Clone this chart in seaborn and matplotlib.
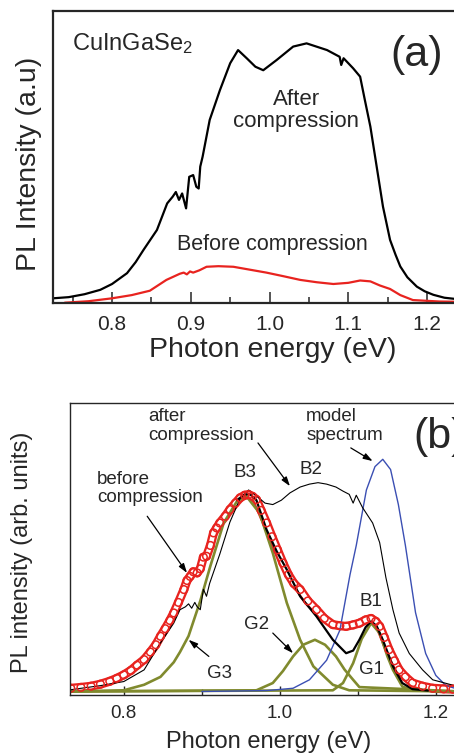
import matplotlib
matplotlib.use("Agg")
import matplotlib.pyplot as plt
from matplotlib.ticker import MultipleLocator
import seaborn as sns
import pandas as pd

# ---- panel (a): PL spectra of CuInGaSe2 ----
e_after_a = [0.725, 0.745, 0.765, 0.785, 0.800, 0.819, 0.830, 0.840, 0.857, 0.870, 0.877,
             0.881, 0.885, 0.889, 0.894, 0.898, 0.903, 0.907, 0.910, 0.912, 0.915, 0.924,
             0.937, 0.950, 0.960, 0.971, 0.982, 0.992, 1.009, 1.030, 1.047, 1.073, 1.089,
             1.091, 1.094, 1.106, 1.115, 1.121, 1.128, 1.136, 1.144, 1.153, 1.160, 1.166,
             1.175, 1.187, 1.197, 1.208, 1.222, 1.242]
i_after_a = [0.016, 0.020, 0.030, 0.045, 0.065, 0.102, 0.140, 0.182, 0.250, 0.341, 0.364,
             0.380, 0.353, 0.375, 0.324, 0.432, 0.438, 0.398, 0.392, 0.467, 0.501, 0.627,
             0.729, 0.821, 0.866, 0.838, 0.809, 0.797, 0.832, 0.878, 0.889, 0.866, 0.843,
             0.815, 0.838, 0.804, 0.775, 0.695, 0.604, 0.467, 0.330, 0.216, 0.165, 0.125,
             0.088, 0.056, 0.040, 0.028, 0.018, 0.012]

e_before_a = [0.740, 0.770, 0.800, 0.825, 0.848, 0.869, 0.886, 0.891, 0.895, 0.899, 0.903,
              0.911, 0.920, 0.935, 0.954, 0.975, 0.996, 1.017, 1.039, 1.060, 1.081, 1.100,
              1.115, 1.128, 1.140, 1.153, 1.166, 1.182, 1.216, 1.242]
i_before_a = [0.001, 0.006, 0.016, 0.027, 0.042, 0.079, 0.100, 0.104, 0.098, 0.108, 0.104,
              0.112, 0.124, 0.126, 0.124, 0.114, 0.104, 0.092, 0.079, 0.071, 0.065, 0.069,
              0.077, 0.074, 0.060, 0.048, 0.027, 0.010, 0.005, 0.004]

# ---- panel (b): spectra, Gaussian components and model ----
e_after_b = [0.732, 0.770, 0.800, 0.826, 0.847, 0.864, 0.872, 0.879, 0.883, 0.887, 0.891,
             0.894, 0.898, 0.902, 0.906, 0.910, 0.923, 0.936, 0.949, 0.960, 0.970, 0.981,
             0.991, 1.002, 1.013, 1.026, 1.038, 1.049, 1.060, 1.072, 1.081, 1.089, 1.094,
             1.098, 1.106, 1.119, 1.128, 1.136, 1.145, 1.153, 1.166, 1.183, 1.196, 1.231]
i_after_b = [0.006, 0.020, 0.034, 0.074, 0.166, 0.234, 0.280, 0.290, 0.300, 0.285, 0.305,
             0.290, 0.280, 0.350, 0.326, 0.370, 0.470, 0.580, 0.660, 0.690, 0.670, 0.645,
             0.640, 0.655, 0.680, 0.700, 0.710, 0.715, 0.710, 0.700, 0.686, 0.675, 0.645,
             0.672, 0.630, 0.577, 0.510, 0.390, 0.280, 0.200, 0.130, 0.074, 0.040, 0.015]

e_before_b = [0.732, 0.745, 0.758, 0.770, 0.782, 0.791, 0.800, 0.809, 0.817, 0.826, 0.834,
              0.841, 0.847, 0.853, 0.859, 0.864, 0.870, 0.877, 0.881, 0.885, 0.889, 0.894,
              0.898, 0.902, 0.906, 0.911, 0.915, 0.919, 0.923, 0.930, 0.936, 0.943, 0.949,
              0.955, 0.960, 0.965, 0.970, 0.976, 0.983, 0.990, 0.997, 1.004, 1.011, 1.018,
              1.026, 1.036, 1.047, 1.057, 1.068, 1.077, 1.085, 1.094, 1.102, 1.110, 1.117,
              1.123, 1.128, 1.134, 1.140, 1.147, 1.153, 1.161, 1.170, 1.183, 1.196, 1.210,
              1.222]
i_before_b = [0.011, 0.014, 0.018, 0.025, 0.035, 0.045, 0.057, 0.072, 0.090, 0.109, 0.135,
              0.160, 0.189, 0.215, 0.243, 0.269, 0.305, 0.349, 0.380, 0.394, 0.410, 0.406,
              0.420, 0.460, 0.463, 0.500, 0.543, 0.560, 0.577, 0.600, 0.623, 0.645, 0.663,
              0.672, 0.674, 0.668, 0.657, 0.620, 0.577, 0.530, 0.485, 0.440, 0.400, 0.370,
              0.349, 0.310, 0.280, 0.250, 0.229, 0.225, 0.223, 0.228, 0.234, 0.245, 0.250,
              0.240, 0.223, 0.185, 0.143, 0.105, 0.074, 0.050, 0.029, 0.018, 0.011, 0.009,
              0.008]

e_fit = [0.945, 0.955, 0.962, 0.970, 0.983, 0.996, 1.009, 1.026, 1.047, 1.068, 1.085, 1.094,
         1.102, 1.110, 1.117, 1.124, 1.132, 1.145, 1.157, 1.170, 1.190]
i_fit = [0.655, 0.675, 0.675, 0.655, 0.554, 0.480, 0.417, 0.326, 0.257, 0.177, 0.131, 0.140,
         0.177, 0.220, 0.240, 0.225, 0.177, 0.086, 0.029, 0.008, 0.003]

e_g3 = [0.731, 0.800, 0.826, 0.847, 0.864, 0.872, 0.883, 0.898, 0.911, 0.928, 0.945, 0.957,
        0.974, 0.991, 1.009, 1.026, 1.043, 1.068, 1.089, 1.231]
i_g3 = [0.000, 0.004, 0.023, 0.050, 0.100, 0.135, 0.190, 0.310, 0.430, 0.577, 0.651, 0.669,
        0.611, 0.474, 0.303, 0.177, 0.086, 0.023, 0.004, 0.000]

e_g2 = [0.731, 0.970, 0.991, 1.004, 1.017, 1.030, 1.045, 1.058, 1.072, 1.083, 1.094, 1.102, 1.231]
i_g2 = [0.000, 0.004, 0.029, 0.070, 0.120, 0.160, 0.177, 0.160, 0.120, 0.075, 0.040, 0.015, 0.000]

e_g1 = [0.731, 1.068, 1.081, 1.094, 1.105, 1.117, 1.128, 1.138, 1.145, 1.157, 1.170, 1.231]
i_g1 = [0.000, 0.004, 0.029, 0.097, 0.180, 0.234, 0.200, 0.120, 0.074, 0.017, 0.004, 0.000]

e_model = [0.900, 0.983, 1.017, 1.038, 1.060, 1.077, 1.090, 1.098, 1.111, 1.122, 1.132, 1.142,
           1.152, 1.161, 1.174, 1.187, 1.200, 1.213, 1.231]
i_model = [0.000, 0.003, 0.011, 0.040, 0.107, 0.210, 0.400, 0.500, 0.690, 0.770, 0.795, 0.760,
           0.640, 0.500, 0.270, 0.130, 0.055, 0.020, 0.006]

RED = "#e8231f"
OLIVE = "#808a2e"
BLUE = "#3b4fb3"

sns.set_style("ticks")
plt.rcParams["font.family"] = ["Liberation Sans", "DejaVu Sans"]
plt.rcParams["mathtext.fontset"] = "custom"
plt.rcParams["mathtext.rm"] = "Liberation Sans"
plt.rcParams["mathtext.it"] = "Liberation Sans:italic"

fig = plt.figure(figsize=(4.54, 7.55), dpi=100)
ax1 = fig.add_axes([0.1167, 0.5987, 0.8965, 0.3868])
ax2 = fig.add_axes([0.1542, 0.0795, 0.8590, 0.3868])


def line(ax, x, y, **kw):
    df = pd.DataFrame({"E": x, "I": y})
    sns.lineplot(data=df, x="E", y="I", ax=ax, estimator=None, sort=False, **kw)


# panel (a)
line(ax1, e_after_a, i_after_a, color="black", linewidth=1.6)
line(ax1, e_before_a, i_before_a, color=RED, linewidth=1.6)
ax1.set_xlim(0.725, 1.2418)
ax1.set_ylim(0, 1)
ax1.text(0.749, 0.89, "CuInGaSe$_2$", fontsize=17, va="center")
ax1.text(1.153, 0.85, "(a)", fontsize=31, va="center")
ax1.text(1.034, 0.66, "After\ncompression", fontsize=16, ha="center", va="center",
         linespacing=1.05)
ax1.text(1.004, 0.20, "Before compression", fontsize=15.5, ha="center", va="center")
ax1.set_xlabel("Photon energy (eV)", fontsize=20.5)
ax1.set_ylabel("PL Intensity (a.u)", fontsize=20.5)
ax1.xaxis.set_label_coords(0.539, -0.118)
ax1.yaxis.set_label_coords(-0.026, 0.476)
ax1.xaxis.set_major_locator(MultipleLocator(0.1))
ax1.xaxis.set_minor_locator(MultipleLocator(0.05))
ax1.set_yticks([])
ax1.tick_params(axis="x", which="major", direction="in", length=8, width=1.1,
                labelsize=15, pad=9)
ax1.tick_params(axis="x", which="minor", direction="in", length=4, width=1.1)
for s in ax1.spines.values():
    s.set_linewidth(1.6)
    s.set_visible(True)

# panel (b)
# red data drawn as a ring band, circles on top
line(ax2, e_before_b, i_before_b, color=RED, linewidth=6.5)
line(ax2, e_before_b, i_before_b, color="white", linewidth=3.2)
sns.scatterplot(x=e_before_b, y=i_before_b, ax=ax2, marker="o", s=30,
                facecolor="none", edgecolor=RED, linewidth=1.1, zorder=2.1)
line(ax2, e_g3, i_g3, color=OLIVE, linewidth=1.9)
line(ax2, e_g2, i_g2, color=OLIVE, linewidth=1.9)
line(ax2, e_g1, i_g1, color=OLIVE, linewidth=1.9)
line(ax2, e_model, i_model, color=BLUE, linewidth=1.0)
line(ax2, e_after_b, i_after_b, color="black", linewidth=0.8)
line(ax2, e_fit, i_fit, color="black", linewidth=1.6)
ax2.set_xlim(0.731, 1.231)
ax2.set_ylim(-0.012, 0.988)

fs = 13.5
arrow = dict(arrowstyle="-|>,head_length=0.55,head_width=0.18", color="black",
             lw=0.9, shrinkA=0, shrinkB=0)
ax2.text(0.831, 0.909, "after\ncompression", fontsize=fs, ha="left", va="center",
         linespacing=1.15)
ax2.annotate("", xy=(1.013, 0.703), xytext=(0.972, 0.851), arrowprops=arrow)
ax2.text(1.0336, 0.908, "model\nspectrum", fontsize=fs, ha="left", va="center",
         linespacing=1.15)
ax2.annotate("", xy=(1.119, 0.789), xytext=(1.091, 0.834), arrowprops=arrow)
ax2.text(0.7656, 0.695, "before\ncompression", fontsize=fs, ha="left", va="center",
         linespacing=1.15)
ax2.annotate("", xy=(0.881, 0.406), xytext=(0.830, 0.600), arrowprops=arrow)
ax2.text(0.970, 0.229, "G2", fontsize=fs, ha="center", va="center")
ax2.annotate("", xy=(1.017, 0.131), xytext=(0.991, 0.200), arrowprops=arrow)
ax2.text(0.923, 0.063, "G3", fontsize=fs, ha="center", va="center")
ax2.annotate("", xy=(0.883, 0.177), xytext=(0.909, 0.120), arrowprops=arrow)
ax2.text(0.955, 0.749, "B3", fontsize=fs, ha="center", va="center")
ax2.text(1.040, 0.760, "B2", fontsize=fs, ha="center", va="center")
ax2.text(1.117, 0.309, "B1", fontsize=fs, ha="center", va="center")
ax2.text(1.117, 0.074, "G1", fontsize=fs, ha="center", va="center")
ax2.text(1.171, 0.873, "(b)", fontsize=31, va="center")

ax2.set_xlabel("Photon energy (eV)", fontsize=17)
ax2.set_ylabel("PL intensity (arb. units)", fontsize=17)
ax2.xaxis.set_label_coords(0.509, -0.122)
ax2.yaxis.set_label_coords(-0.094, 0.49)
ax2.xaxis.set_major_locator(MultipleLocator(0.2))
ax2.xaxis.set_minor_locator(MultipleLocator(0.1))
ax2.set_yticks([])
ax2.tick_params(axis="x", which="major", direction="in", length=6.5, width=1.0,
                labelsize=13.5, pad=7)
ax2.tick_params(axis="x", which="minor", direction="in", length=4.3, width=1.0)
for s in ax2.spines.values():
    s.set_linewidth(1.0)
    s.set_visible(True)

fig.savefig("out.png", dpi=100)
